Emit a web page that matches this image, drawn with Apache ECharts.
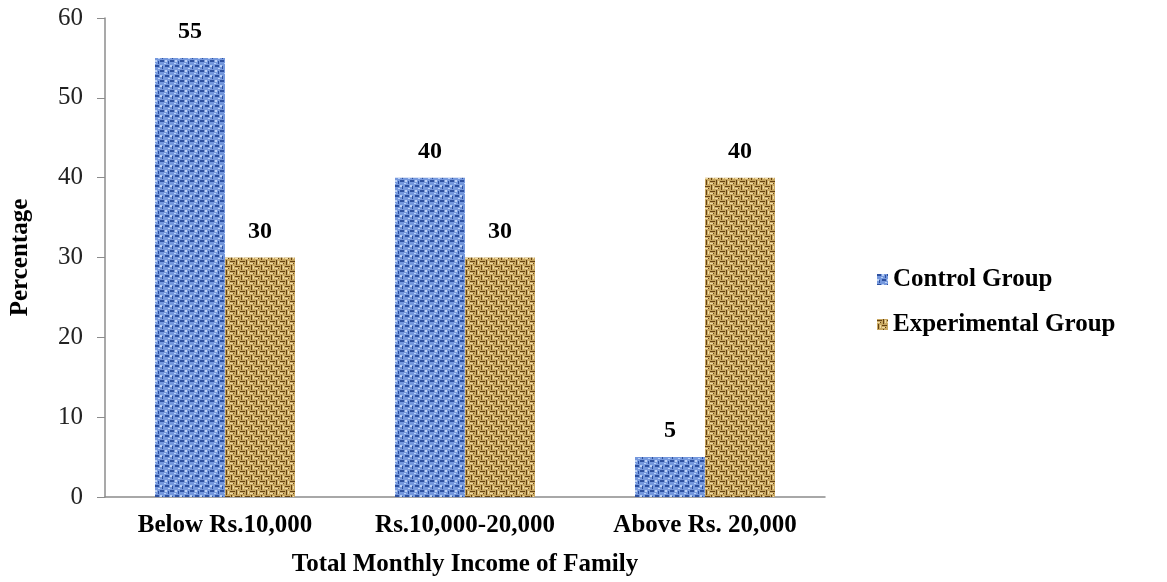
<!DOCTYPE html>
<html>
<head>
	<meta charset="utf-8">
	<script type="text/javascript" src="https://cdn.jsdelivr.net/npm/echarts@6/dist/echarts.min.js"></script>
</head>
<body style="margin:0;background:#fff">

<div id="main" style="width:1167px;height:582px"></div>

<script type="text/javascript">
  // data
  var categories = ['Below Rs.10,000', 'Rs.10,000-20,000', 'Above Rs. 20,000'];
  var controlGroup = [55, 40, 5];
  var experimentalGroup = [30, 30, 40];

  // woven textures for the bars (fixed pattern, not data)
  function bluePattern() {
    var c = document.createElement('canvas');
    c.width = 10; c.height = 10;
    var g = c.getContext('2d');
    g.fillStyle = '#7598dd';
    g.fillRect(0, 0, 10, 10);
    g.fillStyle = '#2d509f';
    g.fillRect(0, 0, 4, 2);
    g.fillRect(5, 5, 4, 2);
    g.fillRect(8, 1, 1, 3);
    g.fillRect(2, 6, 1, 3);
    g.fillStyle = '#bcd2f6';
    g.fillRect(5, 0, 2, 2);
    g.fillRect(0, 5, 2, 2);
    g.fillRect(4, 3, 2, 1);
    g.fillRect(8, 8, 2, 1);
    return c;
  }
  function brownPattern() {
    var c = document.createElement('canvas');
    c.width = 10; c.height = 10;
    var g = c.getContext('2d');
    g.fillStyle = '#c9a862';
    g.fillRect(0, 0, 10, 10);
    g.fillStyle = '#654313';
    g.fillRect(0, 1, 5, 1);
    g.fillRect(5, 6, 5, 1);
    g.fillRect(6, 0, 1, 5);
    g.fillRect(1, 5, 1, 5);
    g.fillRect(3, 3, 1, 1);
    g.fillRect(8, 8, 1, 1);
    g.fillStyle = '#f0dca6';
    g.fillRect(0, 3, 3, 1);
    g.fillRect(5, 8, 3, 1);
    g.fillRect(8, 1, 1, 3);
    g.fillRect(3, 6, 1, 3);
    return c;
  }

  var myChart = echarts.init(document.getElementById('main'));
  var serif = 'Liberation Serif';
  var lbl = {
    show: true,
    position: 'top',
    distance: 14,
    fontFamily: serif,
    fontWeight: 'bold',
    fontSize: 24,
    color: '#000'
  };

  var option = {
    backgroundColor: '#fff',
    animation: false,
    grid: { left: 103, right: 342, top: 18, bottom: 84 },
    legend: {
      orient: 'vertical',
      left: 872,
      top: 262,
      itemWidth: 11,
      itemHeight: 11,
      itemGap: 20,
      icon: 'rect',
      textStyle: { fontFamily: serif, fontWeight: 'bold', fontSize: 25, color: '#000' },
      data: ['Control Group', 'Experimental Group']
    },
    xAxis: {
      type: 'category',
      data: categories,
      name: 'Total Monthly Income of Family',
      nameLocation: 'middle',
      nameGap: 55,
      nameTextStyle: { fontFamily: serif, fontWeight: 'bold', fontSize: 25, color: '#000' },
      axisLine: { lineStyle: { color: '#8c8c8c', width: 1.5 } },
      axisTick: { show: false },
      axisLabel: { margin: 16, fontFamily: serif, fontWeight: 'bold', fontSize: 25, color: '#000' }
    },
    yAxis: {
      type: 'value',
      min: 0,
      max: 60,
      interval: 10,
      name: 'Percentage',
      nameLocation: 'middle',
      nameGap: 72,
      nameTextStyle: { fontFamily: serif, fontWeight: 'bold', fontSize: 25, color: '#000' },
      axisLine: { show: true, lineStyle: { color: '#8c8c8c', width: 1.5 } },
      axisTick: { show: true, length: 8, lineStyle: { color: '#8c8c8c' } },
      axisLabel: { margin: 22, fontFamily: serif, fontSize: 25, color: '#222' },
      splitLine: { show: false }
    },
    series: [
      {
        name: 'Control Group',
        type: 'bar',
        barWidth: 70,
        barGap: '0%',
        data: controlGroup,
        itemStyle: { color: { image: bluePattern(), repeat: 'repeat' } },
        label: lbl
      },
      {
        name: 'Experimental Group',
        type: 'bar',
        barWidth: 70,
        barGap: '0%',
        data: experimentalGroup,
        itemStyle: { color: { image: brownPattern(), repeat: 'repeat' } },
        label: lbl
      }
    ]
  };
  myChart.setOption(option);
</script>
</body>
</html>
